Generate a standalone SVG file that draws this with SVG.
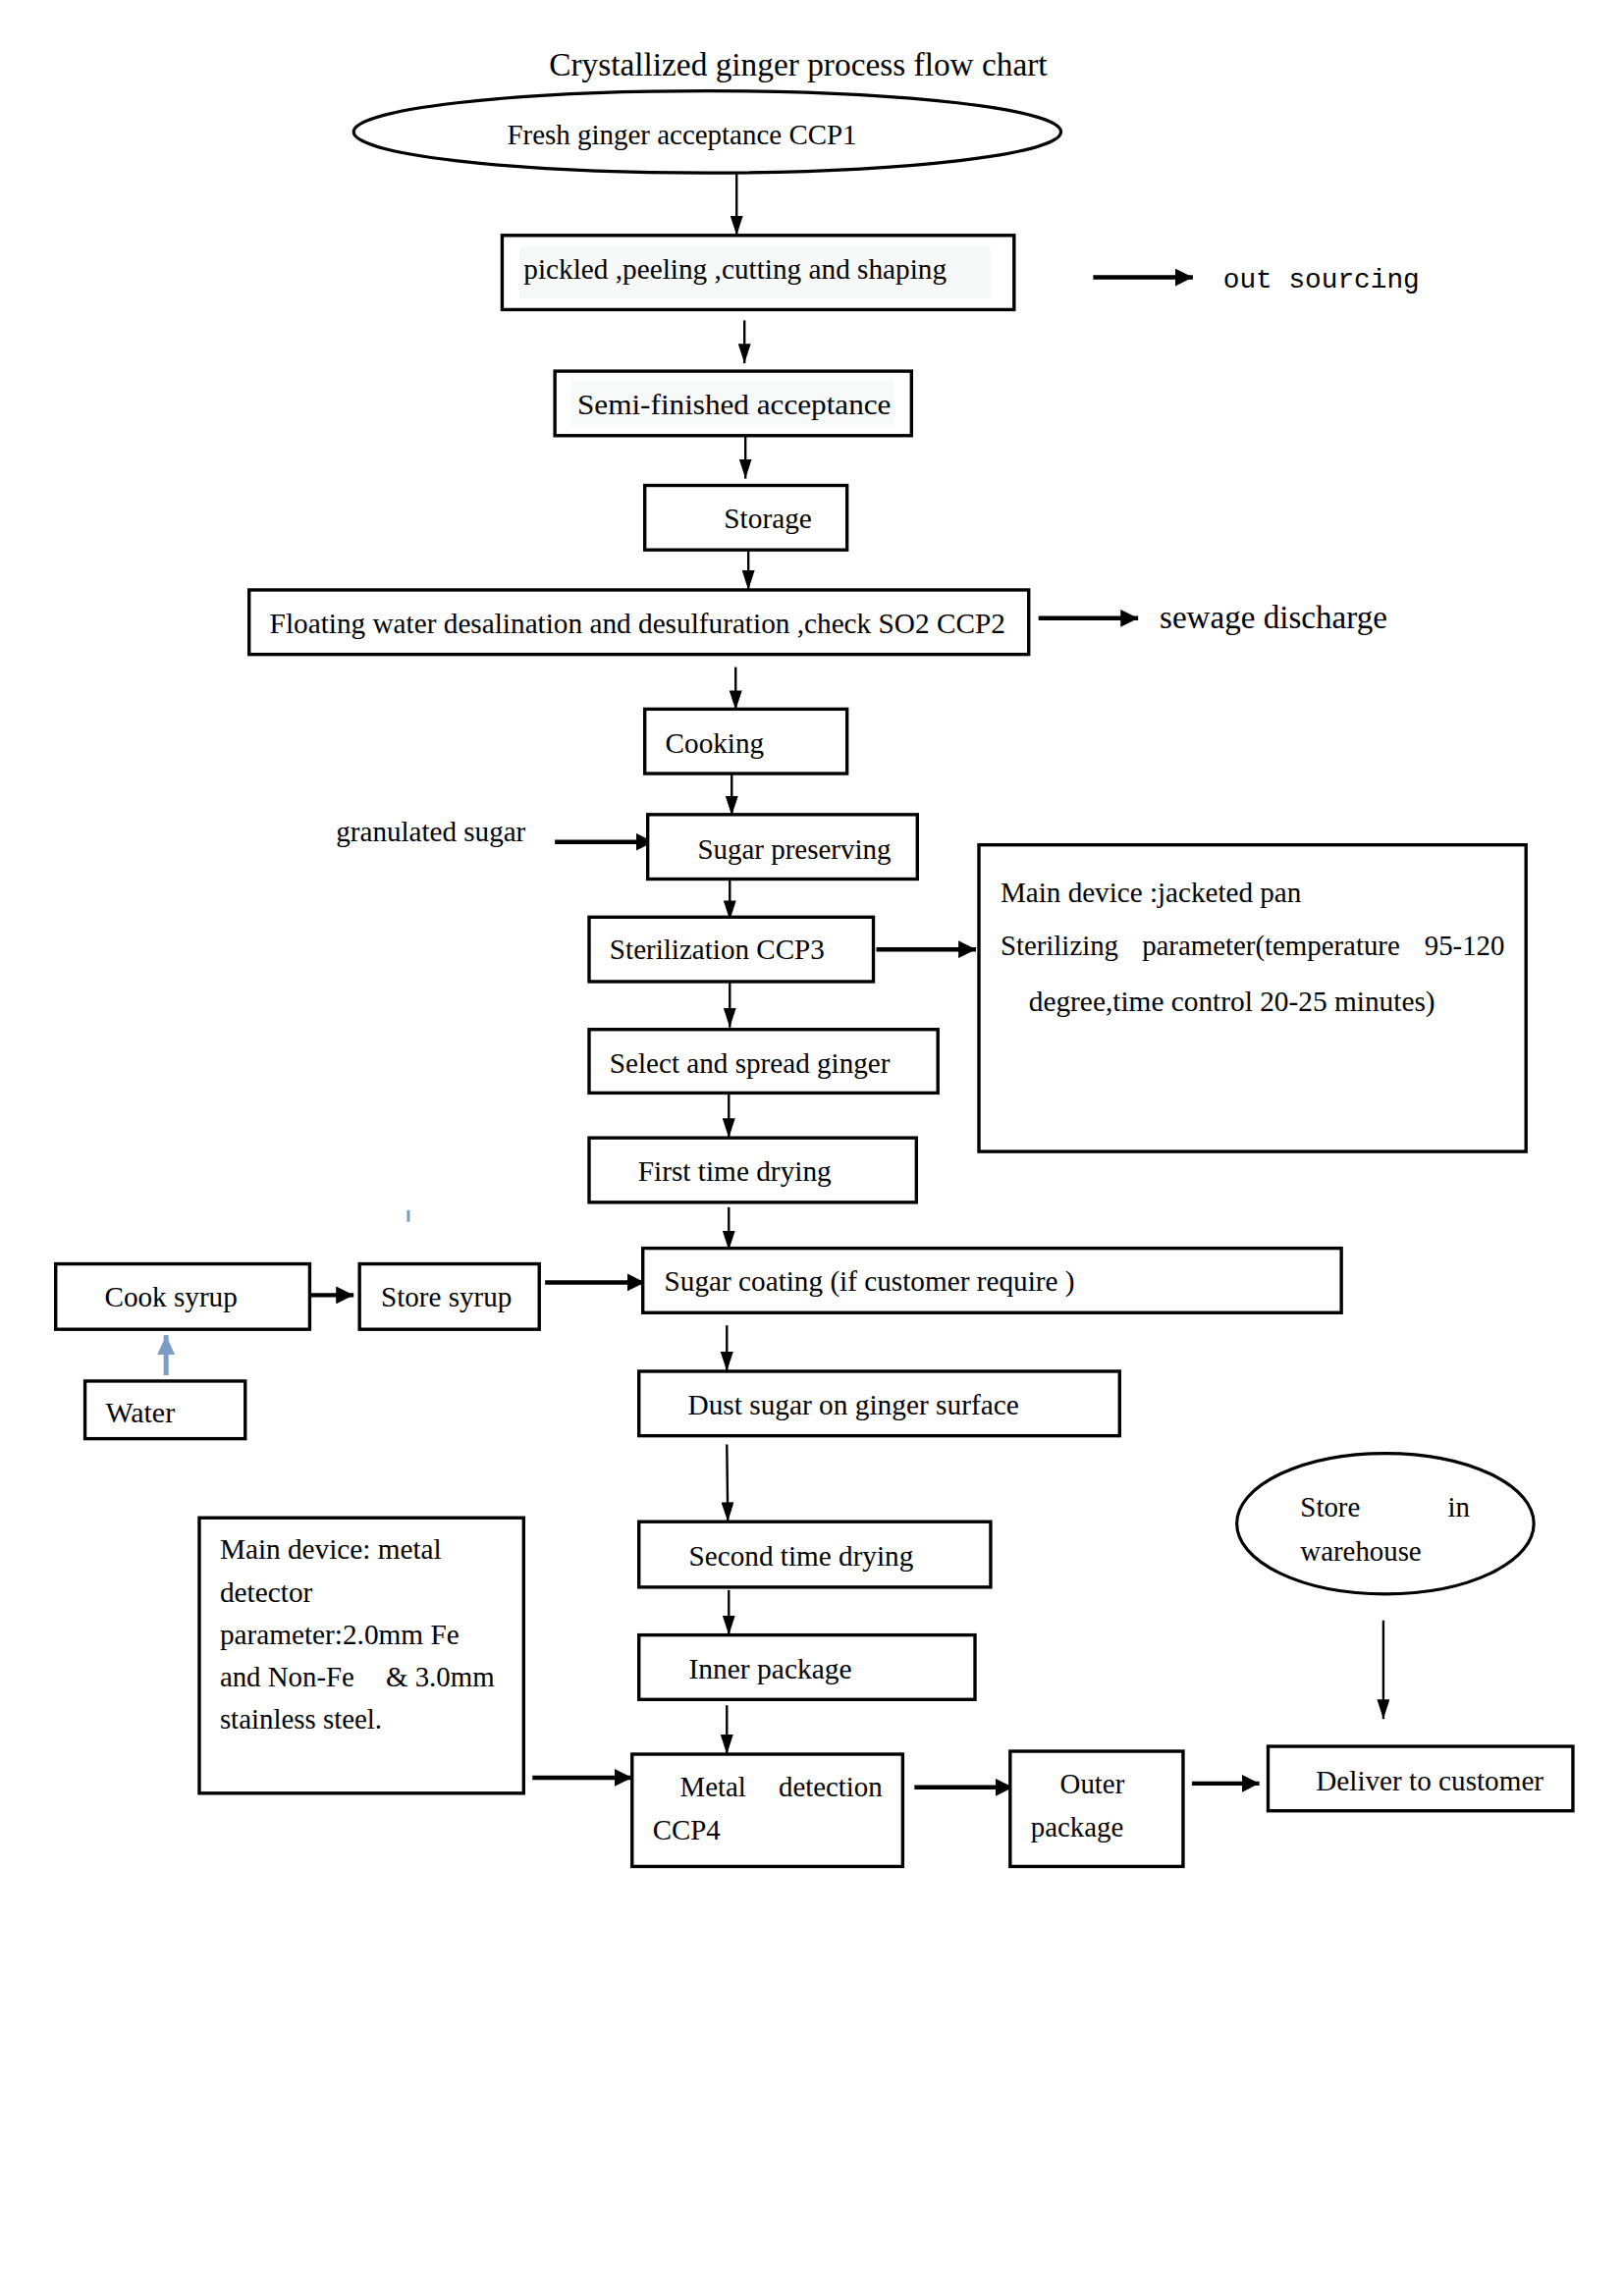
<svg xmlns="http://www.w3.org/2000/svg" width="1654" height="2339" viewBox="0 0 1654 2339">
<style>
  text { font-family: "Liberation Serif", "Times New Roman", serif; font-size: 29px; fill: #000; }
  .title { font-size: 33px; }
  .big { font-size: 33px; }
  .mono { font-family: "Liberation Mono", "Courier New", monospace; font-size: 28px; }
  .box { fill: #fff; stroke: #000; stroke-width: 3.4; }
  .ell { fill: #fff; stroke: #000; stroke-width: 3.2; }
  .v { stroke: #000; stroke-width: 2.4; fill: none; marker-end: url(#ah); }
  .h { stroke: #000; stroke-width: 4.5; fill: none; marker-end: url(#ahh); }
  .blue { stroke: #7a9cc6; stroke-width: 5; fill: none; marker-end: url(#ahb); }
</style>
<defs>
  <marker id="ah" markerUnits="userSpaceOnUse" markerWidth="20" markerHeight="13" refX="20" refY="6.5" viewBox="0 0 20 13" orient="auto">
    <path d="M0,0 L20,6.5 L0,13 z" fill="#000"/>
  </marker>
  <marker id="ahh" markerUnits="userSpaceOnUse" markerWidth="18" markerHeight="18" refX="18" refY="9" viewBox="0 0 18 18" orient="auto">
    <path d="M0,0 L18,9 L0,18 z" fill="#000"/>
  </marker>
  <marker id="ahb" markerUnits="userSpaceOnUse" markerWidth="20" markerHeight="18" refX="20" refY="9" viewBox="0 0 20 18" orient="auto">
    <path d="M0,0 L20,9 L0,18 z" fill="#7a9cc6"/>
  </marker>
</defs>
<rect x="0" y="0" width="1654" height="2339" fill="#fff"/>
<g transform="scale(0.995)">
<text class="title" x="562" y="77" textLength="510" lengthAdjust="spacingAndGlyphs">Crystallized ginger process flow chart</text>

<g id="connectors">
  <line class="v" x1="754" y1="177" x2="754" y2="241"/>
  <line class="h" x1="1119" y1="284" x2="1221" y2="284"/>
  <line class="v" x1="762" y1="328" x2="762" y2="372"/>
  <line class="v" x1="763" y1="446" x2="763" y2="490"/>
  <line class="v" x1="766" y1="562" x2="766" y2="604"/>
  <line class="h" x1="1063" y1="633" x2="1165" y2="633"/>
  <line class="v" x1="753" y1="683" x2="753" y2="727"/>
  <line class="v" x1="749" y1="792" x2="749" y2="835"/>
  <line class="h" x1="568" y1="862" x2="669" y2="862"/>
  <line class="v" x1="747" y1="900" x2="747" y2="942"/>
  <line class="h" x1="897" y1="972" x2="999" y2="972"/>
  <line class="v" x1="747" y1="1005" x2="747" y2="1052"/>
  <line class="v" x1="746" y1="1119" x2="746" y2="1165"/>
  <line class="v" x1="746" y1="1236" x2="746" y2="1280"/>
  <line x1="418" y1="1239" x2="418" y2="1251" stroke="#7a9cc6" stroke-width="3"/>
  <line class="h" x1="312" y1="1326" x2="362" y2="1326"/>
  <line class="h" x1="558" y1="1313" x2="660" y2="1313"/>
  <line class="blue" x1="170" y1="1408" x2="170" y2="1367"/>
  <line class="v" x1="744" y1="1357" x2="744" y2="1404"/>
  <line class="v" x1="744" y1="1479" x2="745" y2="1558"/>
  <line class="v" x1="746" y1="1628" x2="746" y2="1674"/>
  <line class="v" x1="744" y1="1746" x2="744" y2="1796"/>
  <line class="h" x1="545" y1="1820" x2="647" y2="1820"/>
  <line class="h" x1="936" y1="1830" x2="1037" y2="1830"/>
  <line class="h" x1="1220" y1="1826" x2="1289" y2="1826"/>
  <line class="v" x1="1416" y1="1659" x2="1416" y2="1760"/>
</g>

<g id="n-fresh">
  <ellipse class="ell" cx="724" cy="135" rx="362" ry="42"/>
  <text x="519" y="148" textLength="358" lengthAdjust="spacingAndGlyphs">Fresh ginger acceptance CCP1</text>
</g>
<g id="n-pickled">
  <rect class="box" x="514" y="241" width="524" height="76"/>
  <rect x="532" y="252" width="482" height="54" fill="#f7f8f8"/>
  <text x="536" y="285" textLength="433" lengthAdjust="spacingAndGlyphs">pickled ,peeling ,cutting and shaping</text>
</g>
<g id="n-outsourcing">
  <text class="mono" x="1252" y="294" textLength="201" lengthAdjust="spacingAndGlyphs">out sourcing</text>
</g>
<g id="n-semi">
  <rect class="box" x="568" y="380" width="365" height="66"/>
  <rect x="585" y="389" width="330" height="48" fill="#f8f9f9"/>
  <text x="591" y="424" textLength="321" lengthAdjust="spacingAndGlyphs">Semi-finished acceptance</text>
</g>
<g id="n-storage">
  <rect class="box" x="660" y="497" width="207" height="66"/>
  <text x="741" y="541" textLength="90" lengthAdjust="spacingAndGlyphs">Storage</text>
</g>
<g id="n-floating">
  <rect class="box" x="255" y="604" width="798" height="66"/>
  <text x="276" y="648" textLength="753" lengthAdjust="spacingAndGlyphs">Floating water desalination and desulfuration ,check SO2 CCP2</text>
</g>
<g id="n-sewage">
  <text class="big" x="1187" y="643" textLength="233" lengthAdjust="spacingAndGlyphs">sewage discharge</text>
</g>
<g id="n-cooking">
  <rect class="box" x="660" y="726" width="207" height="66"/>
  <text x="681" y="771" textLength="101" lengthAdjust="spacingAndGlyphs">Cooking</text>
</g>
<g id="n-granulated">
  <text x="344" y="861" textLength="194" lengthAdjust="spacingAndGlyphs">granulated sugar</text>
</g>
<g id="n-preserving">
  <rect class="box" x="663" y="834" width="276" height="66"/>
  <text x="714" y="879" textLength="198" lengthAdjust="spacingAndGlyphs">Sugar preserving</text>
</g>
<g id="n-sterilization">
  <rect class="box" x="603" y="939" width="291" height="66"/>
  <text x="624" y="982" textLength="220" lengthAdjust="spacingAndGlyphs">Sterilization CCP3</text>
</g>
<g id="n-jacketed">
  <rect class="box" x="1002" y="865" width="560" height="314"/>
  <text x="1024" y="924" textLength="308" lengthAdjust="spacingAndGlyphs">Main device :jacketed pan</text>
  <text y="978"><tspan x="1024">Sterilizing</tspan> <tspan x="1169">parameter(temperature</tspan> <tspan x="1458">95-120</tspan></text>
  <text x="1053" y="1035" textLength="416" lengthAdjust="spacingAndGlyphs">degree,time control 20-25 minutes)</text>
</g>
<g id="n-select">
  <rect class="box" x="603" y="1054" width="357" height="65"/>
  <text x="624" y="1098" textLength="287" lengthAdjust="spacingAndGlyphs">Select and spread ginger</text>
</g>
<g id="n-first">
  <rect class="box" x="603" y="1165" width="335" height="66"/>
  <text x="653" y="1209" textLength="198" lengthAdjust="spacingAndGlyphs">First time drying</text>
</g>
<g id="n-coating">
  <rect class="box" x="658" y="1278" width="715" height="66"/>
  <text x="680" y="1322" textLength="420" lengthAdjust="spacingAndGlyphs">Sugar coating (if customer require )</text>
</g>
<g id="n-cook">
  <rect class="box" x="57" y="1294" width="260" height="67"/>
  <text x="107" y="1338" textLength="136" lengthAdjust="spacingAndGlyphs">Cook syrup</text>
</g>
<g id="n-store">
  <rect class="box" x="368" y="1294" width="184" height="67"/>
  <text x="390" y="1338" textLength="134" lengthAdjust="spacingAndGlyphs">Store syrup</text>
</g>
<g id="n-water">
  <rect class="box" x="87" y="1414" width="164" height="59"/>
  <text x="108" y="1456" textLength="71" lengthAdjust="spacingAndGlyphs">Water</text>
</g>
<g id="n-dust">
  <rect class="box" x="654" y="1404" width="492" height="66"/>
  <text x="704" y="1448" textLength="339" lengthAdjust="spacingAndGlyphs">Dust sugar on ginger surface</text>
</g>
<g id="n-second">
  <rect class="box" x="654" y="1558" width="360" height="67"/>
  <text x="705" y="1603" textLength="230" lengthAdjust="spacingAndGlyphs">Second time drying</text>
</g>
<g id="n-inner">
  <rect class="box" x="654" y="1674" width="344" height="66"/>
  <text x="705" y="1719" textLength="167" lengthAdjust="spacingAndGlyphs">Inner package</text>
</g>
<g id="n-metaldevice">
  <rect class="box" x="204" y="1554" width="332" height="282"/>
  <text x="225" y="1596" textLength="227" lengthAdjust="spacingAndGlyphs">Main device: metal</text>
  <text x="225" y="1640" textLength="95" lengthAdjust="spacingAndGlyphs">detector</text>
  <text x="225" y="1683" textLength="245" lengthAdjust="spacingAndGlyphs">parameter:2.0mm Fe</text>
  <text y="1727"><tspan x="225">and Non-Fe</tspan> <tspan x="395">&amp; 3.0mm</tspan></text>
  <text x="225" y="1770" textLength="166" lengthAdjust="spacingAndGlyphs">stainless steel.</text>
</g>
<g id="n-metal">
  <rect class="box" x="647" y="1796" width="277" height="115"/>
  <text y="1839"><tspan x="696">Metal</tspan> <tspan x="797">detection</tspan></text>
  <text x="668" y="1883">CCP4</text>
</g>
<g id="n-outer">
  <rect class="box" x="1034" y="1793" width="177" height="118"/>
  <text x="1085" y="1836">Outer</text>
  <text x="1055" y="1880">package</text>
</g>
<g id="n-deliver">
  <rect class="box" x="1298" y="1788" width="312" height="66"/>
  <text x="1347" y="1833" textLength="233" lengthAdjust="spacingAndGlyphs">Deliver to customer</text>
</g>
<g id="n-warehouse">
  <ellipse class="ell" cx="1418" cy="1560" rx="152" ry="72"/>
  <text y="1553"><tspan x="1331">Store</tspan> <tspan x="1482">in</tspan></text>
  <text x="1331" y="1598">warehouse</text>
</g>
</g>
</svg>
